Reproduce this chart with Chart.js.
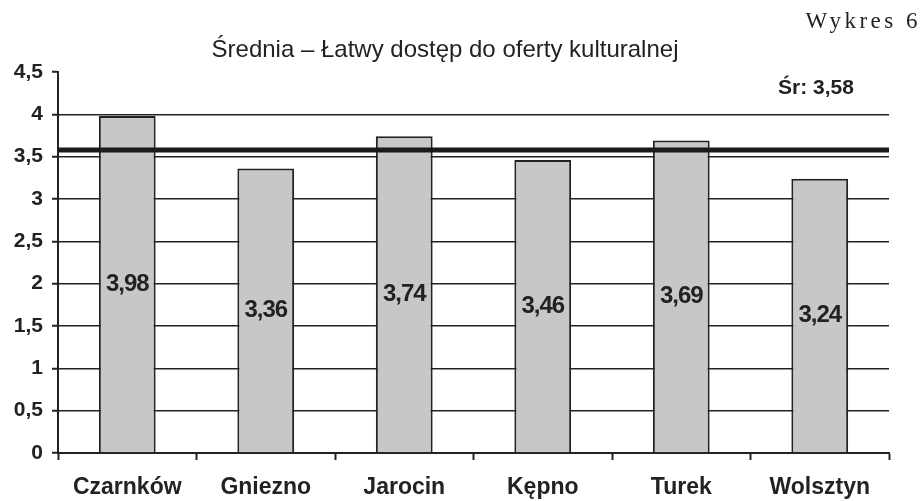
<!DOCTYPE html>
<html>
<head>
<meta charset="utf-8">
<script src="https://cdn.jsdelivr.net/npm/chart.js@4"></script>
<style>
  html, body { margin: 0; padding: 0; background: #fff; }
  #wrap { width: 920px; height: 501px; }
</style>
</head>
<body>
<div id="wrap"><canvas id="chart-canvas" width="920" height="501"></canvas></div>
<script>
const towns = ['Czarnków', 'Gniezno', 'Jarocin', 'Kępno', 'Turek', 'Wolsztyn'];
const averages = [3.98, 3.36, 3.74, 3.46, 3.69, 3.24];
const overallMean = 3.58;
const chartTitle = 'Średnia – Łatwy dostęp do oferty kulturalnej';
const figureLabel = 'Wykres 6';
const meanLabel = 'Śr: 3,58';

const fmt = v => String(v).replace('.', ',');

// mean line, value labels, title and figure label
const extras = {
  id: 'extras',
  afterDatasetsDraw(chart) {
    const ctx = chart.ctx;
    const area = chart.chartArea;
    const y = chart.scales.y;

    ctx.save();
    const my = y.getPixelForValue(overallMean);
    ctx.strokeStyle = '#1a1a1a';
    ctx.lineWidth = 5;
    ctx.beginPath();
    ctx.moveTo(area.left, my);
    ctx.lineTo(area.right, my);
    ctx.stroke();

    ctx.fillStyle = '#222';
    ctx.textAlign = 'center';
    ctx.textBaseline = 'middle';
    ctx.font = 'bold 24px "Liberation Sans", Arial, sans-serif';
    ctx.letterSpacing = '-1px';
    chart.getDatasetMeta(0).data.forEach((bar, i) => {
      ctx.fillText(fmt(averages[i]), bar.x, (bar.y + bar.base) / 2);
    });

    ctx.letterSpacing = '0px';
    ctx.font = 'bold 21px "Liberation Sans", Arial, sans-serif';
    ctx.fillText(meanLabel, 816, 88);

    ctx.font = '24px "Liberation Sans", Arial, sans-serif';
    ctx.fillText(chartTitle, 445, 50);

    ctx.textAlign = 'right';
    ctx.font = '23px "Liberation Serif", "DejaVu Serif", serif';
    ctx.letterSpacing = '3.5px';
    ctx.fillText(figureLabel, 921, 22);
    ctx.restore();
  }
};

new Chart(document.getElementById('chart-canvas'), {
  type: 'bar',
  data: {
    labels: towns,
    datasets: [{
      data: averages,
      backgroundColor: '#c6c7c9',
      borderColor: '#222',
      borderWidth: 2,
      categoryPercentage: 1,
      barPercentage: 0.41
    }]
  },
  options: {
    responsive: false,
    animation: false,
    layout: { padding: { top: 72, right: 31, left: 0, bottom: 0 } },
    plugins: {
      legend: { display: false },
      tooltip: { enabled: false },
      title: { display: false }
    },
    scales: {
      x: {
        afterFit: s => { s.height = 48; },
        grid: {
          offset: true,
          drawOnChartArea: false,
          drawTicks: true,
          tickLength: 7,
          tickColor: '#222',
          tickWidth: 2
        },
        border: { color: '#222', width: 2 },
        ticks: {
          color: '#222',
          padding: 14,
          font: { family: '"Liberation Sans", Arial, sans-serif', size: 23, weight: 'bold' }
        }
      },
      y: {
        min: 0,
        max: 4.5,
        afterFit: s => { s.width = 58; },
        grid: {
          color: ctx => (ctx.tick && ctx.tick.value === 4.5 ? 'rgba(0,0,0,0)' : '#222'),
          lineWidth: 1.5,
          tickLength: 6,
          tickColor: '#222',
          tickWidth: 2
        },
        border: { color: '#222', width: 2 },
        ticks: {
          stepSize: 0.5,
          color: '#222',
          padding: 9,
          callback: v => fmt(v),
          font: { family: '"Liberation Sans", Arial, sans-serif', size: 21, weight: 'bold' }
        }
      }
    }
  },
  plugins: [extras]
});
</script>
</body>
</html>
